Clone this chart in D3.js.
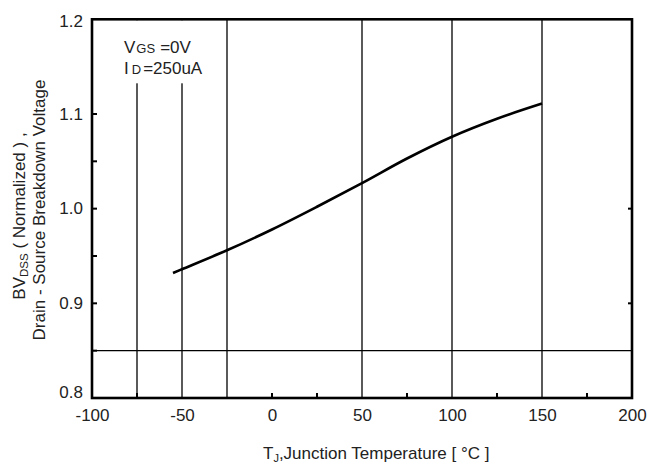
<!DOCTYPE html>
<html>
<head>
<meta charset="utf-8">
<script src="https://cdn.jsdelivr.net/npm/d3@7"></script>
<style>
  html, body { margin: 0; padding: 0; background: #fff; }
  svg text { font-family: "Liberation Sans", Arial, sans-serif; fill: #222; }
</style>
</head>
<body>
<svg id="chart" width="662" height="465"></svg>
<script>
// Normalized drain-source breakdown voltage vs. junction temperature
const tempC = [-55, -50, -25, 0, 25, 50, 75, 100, 125, 150];
const bvNorm = [0.932, 0.936, 0.956, 0.978, 1.002, 1.027, 1.053, 1.076, 1.095, 1.111];

const xTickLabels = [-100, -50, 0, 50, 100, 150, 200];
const yTickLabels = [0.8, 0.9, 1.0, 1.1, 1.2];
const xGrid = [-75, -50, -25, 50, 100, 150];
const yGrid = [0.85];
const xMinorTicks = [-75, 0, 25, 75, 125, 175];
const yMinorTicks = [0.85, 0.9, 0.95, 1.0, 1.05, 1.1, 1.15];
const yRightTicks = [0.9, 1.0];

const svg = d3.select("#chart");
const pL = 92, pR = 632, pT = 19.3, pB = 398;
const fs = 17;

const x = d3.scaleLinear().domain([-100, 200]).range([pL, pR]);
const y = d3.scaleLinear().domain([0.8, 1.2]).range([pB, pT]);

// grid lines
const grid = svg.append("g").attr("stroke", "#000").attr("stroke-width", 1.3);
grid.selectAll("line.vx").data(xGrid).join("line")
  .attr("x1", d => x(d)).attr("x2", d => x(d))
  .attr("y1", pT).attr("y2", pB);
grid.selectAll("line.hy").data(yGrid).join("line")
  .attr("x1", pL).attr("x2", pR)
  .attr("y1", d => y(d)).attr("y2", d => y(d));

// minor inward ticks
const ticks = svg.append("g").attr("stroke", "#000").attr("stroke-width", 2);
ticks.selectAll("line.bt").data(xMinorTicks).join("line")
  .attr("x1", d => x(d)).attr("x2", d => x(d))
  .attr("y1", pB).attr("y2", pB - 5);
ticks.selectAll("line.lt").data(yMinorTicks).join("line")
  .attr("x1", pL).attr("x2", pL + 5)
  .attr("y1", d => y(d)).attr("y2", d => y(d));
ticks.selectAll("line.rt").data(yRightTicks).join("line")
  .attr("x1", pR).attr("x2", pR - 4)
  .attr("y1", d => y(d)).attr("y2", d => y(d));

// curve
const line = d3.line().x((d, i) => x(tempC[i])).y(d => y(d)).curve(d3.curveCatmullRom.alpha(0.5));
svg.append("path").datum(bvNorm)
  .attr("d", line)
  .attr("fill", "none")
  .attr("stroke", "#000")
  .attr("stroke-width", 2.6);

// condition box (covers grid lines behind the text)
svg.append("rect")
  .attr("x", pL + 1).attr("y", pT + 1)
  .attr("width", 124).attr("height", 63)
  .attr("fill", "#fff");

const cond = svg.append("g").attr("font-size", fs);
const t1 = cond.append("text").attr("x", 124).attr("y", 53);
t1.append("tspan").text("V");
t1.append("tspan").attr("font-size", 13).attr("dx", 1).text("GS");
t1.append("tspan").attr("font-size", fs).attr("dx", 5).text("=0V");
const t2 = cond.append("text").attr("x", 124).attr("y", 74);
t2.append("tspan").text("I");
t2.append("tspan").attr("font-size", 13).attr("dx", 3).text("D");
t2.append("tspan").attr("font-size", fs).attr("dx", 2).text("=250uA");

// frame
svg.append("rect")
  .attr("x", pL).attr("y", pT)
  .attr("width", pR - pL).attr("height", pB - pT)
  .attr("fill", "none").attr("stroke", "#000").attr("stroke-width", 2.6);

// tick labels (plain hyphen for negatives)
const xAxis = svg.append("g")
  .attr("transform", `translate(0,${pB})`)
  .call(d3.axisBottom(x).tickValues(xTickLabels).tickSize(0).tickPadding(11).tickFormat(d => String(d)));
const yAxis = svg.append("g")
  .attr("transform", `translate(${pL},0)`)
  .call(d3.axisLeft(y).tickValues(yTickLabels).tickSize(0).tickPadding(9).tickFormat(d => d.toFixed(1)));
[xAxis, yAxis].forEach(a => {
  a.select(".domain").remove();
  a.selectAll("text").attr("font-size", fs).attr("fill", "#222")
    .style("font-family", "'Liberation Sans', Arial, sans-serif");
});
yAxis.selectAll(".tick text").attr("dy", d => d === 0.8 ? "-0.05em" : d === 1.2 ? "0.45em" : "0.3em");

// x title
const xt = svg.append("text").attr("x", 263).attr("y", 459).attr("font-size", fs);
xt.append("tspan").text("T");
xt.append("tspan").attr("font-size", 11).attr("dy", 3).text("J");
xt.append("tspan").attr("font-size", fs).attr("dy", -3).text(",Junction Temperature [ °C ]");

// y title (two lines)
const yt1 = svg.append("text")
  .attr("transform", "translate(25,216) rotate(-90)")
  .attr("text-anchor", "middle").attr("font-size", fs);
yt1.append("tspan").text("BV");
yt1.append("tspan").attr("font-size", 11.5).attr("dy", 3).text("DSS");
yt1.append("tspan").attr("font-size", fs).attr("dy", -3).text(" ( Normalized ) ,");

svg.append("text")
  .attr("transform", "translate(45,210) rotate(-90)")
  .attr("text-anchor", "middle").attr("font-size", fs)
  .text("Drain - Source Breakdown Voltage");
</script>
</body>
</html>
